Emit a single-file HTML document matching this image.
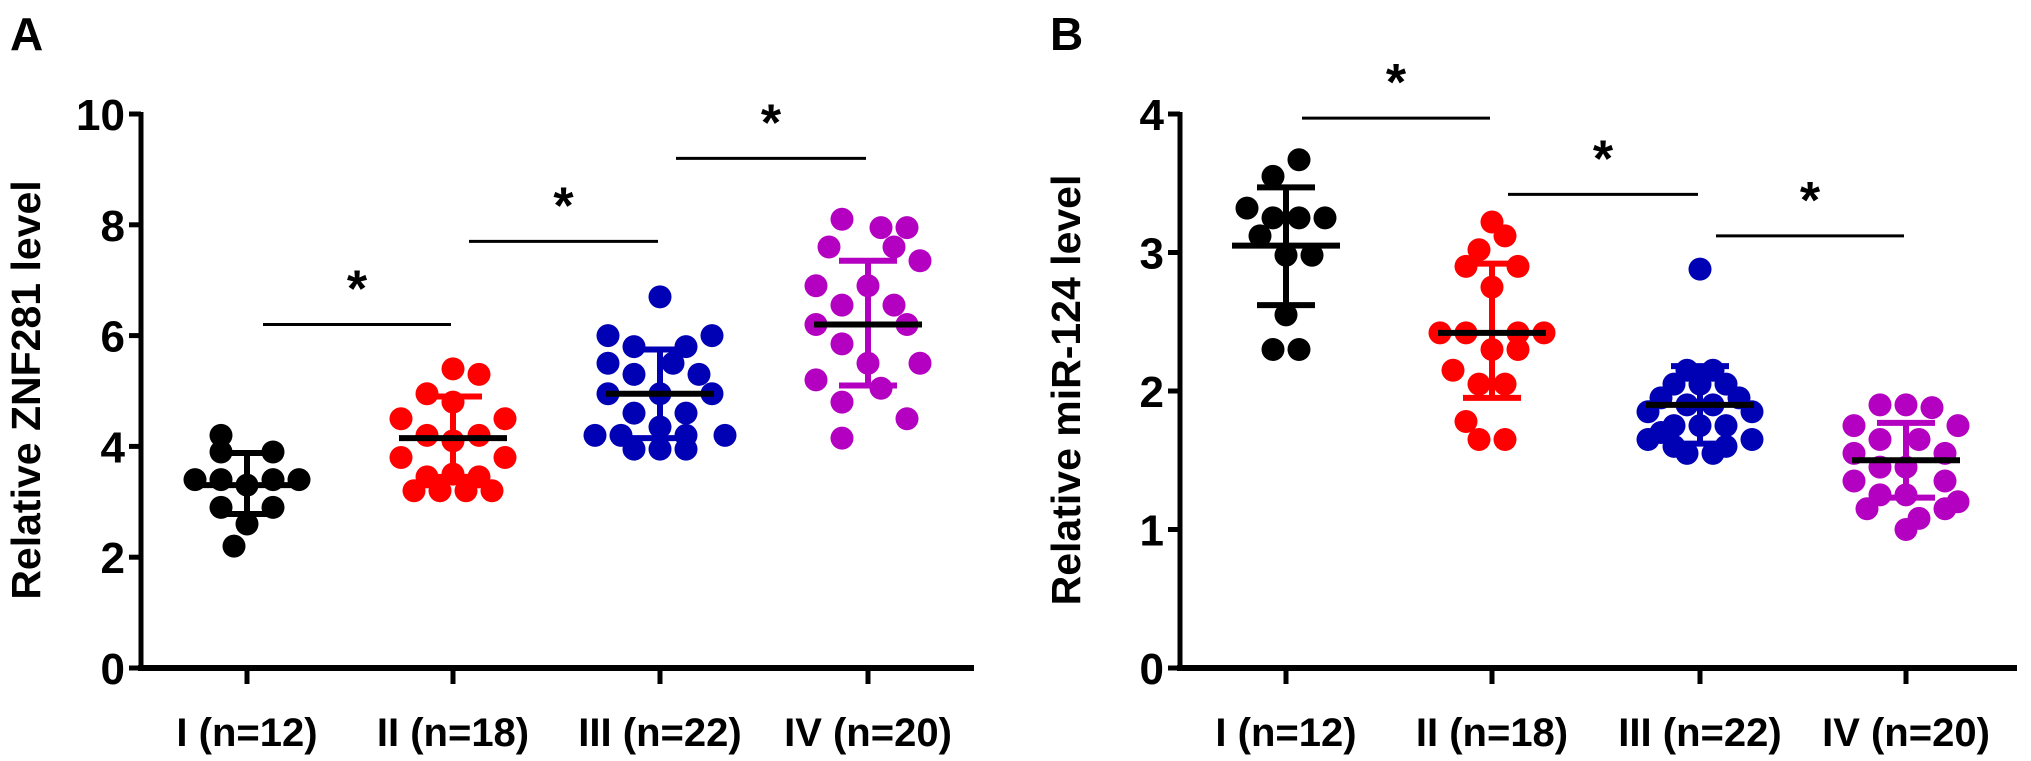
<!DOCTYPE html>
<html><head><meta charset="utf-8"><style>
html,body{margin:0;padding:0;background:#fff;}
svg{display:block;font-family:"Liberation Sans",Arial,sans-serif;}
</style></head><body>
<svg id="chart" width="2031" height="761" viewBox="0 0 2031 761"></svg>
<script>
const categories = ["I (n=12)","II (n=18)","III (n=22)","IV (n=20)"];
const colors = ["#000000","#ff0000","#0000b4","#b400c0"];
// Panel A: [jitter slot, value]
const znfI = [[-1,4.2],[-1,3.9],[1,3.9],[-2,3.4],[-1,3.4],[0,3.3],[1,3.4],[2,3.4],[-1,2.9],[1,2.9],[0,2.6],[-0.5,2.2]];
const znfII = [[0,5.4],[1,5.3],[-1,4.95],[0,4.8],[-2,4.5],[2,4.5],[-1,4.2],[0,4.1],[1,4.2],[-2,3.8],[2,3.8],[-1,3.45],[1,3.45],[-1.5,3.2],[-0.5,3.2],[0.5,3.2],[1.5,3.2],[0,3.5]];
const znfIII = [[0,6.7],[-2,6.0],[2,6.0],[-1,5.8],[1,5.8],[-2,5.5],[0.5,5.5],[-1,5.3],[1.5,5.3],[-2,4.95],[0,4.95],[2,4.95],[-1,4.6],[1,4.6],[0,4.35],[-2.5,4.2],[-1.5,4.2],[1,4.2],[2.5,4.2],[-1,3.95],[0,3.95],[1,3.95]];
const znfIV = [[-1,8.1],[0.5,7.95],[1.5,7.95],[-1.5,7.6],[1,7.6],[2,7.35],[-2,6.9],[0,6.9],[-1,6.55],[1,6.55],[-2,6.2],[1.5,6.2],[-1,5.85],[0,5.5],[2,5.5],[-2,5.2],[0.5,5.05],[-1,4.8],[1.5,4.5],[-1,4.15]];
const znfMean = [3.3,4.15,4.95,6.2];
const znfSdHi = [3.88,4.9,5.75,7.35];
const znfSdLo = [2.78,3.45,4.15,5.1];
const znfTicks = [0,2,4,6,8,10];
const znfSig = [[0,1,6.2],[1,2,7.7],[2,3,9.2]];
// Panel B
const mirI = [[0.5,3.67],[-0.5,3.55],[-1.5,3.32],[-0.5,3.25],[0.5,3.25],[1.5,3.25],[-1,3.12],[0,2.98],[1,2.98],[0,2.55],[-0.5,2.3],[0.5,2.3]];
const mirII = [[0,3.22],[0.5,3.12],[-0.5,3.02],[-1,2.9],[1,2.9],[0,2.75],[-2,2.42],[-1,2.42],[1,2.42],[2,2.42],[0,2.3],[1,2.3],[-1.5,2.15],[-0.5,2.05],[0.5,2.05],[-1,1.78],[-0.5,1.65],[0.5,1.65]];
const mirIII = [[0,2.88],[-0.5,2.15],[0.5,2.15],[-1,2.05],[0,2.05],[1,2.05],[-1.5,1.95],[1.5,1.95],[-0.5,1.9],[0.5,1.9],[-2,1.85],[2,1.85],[-1,1.75],[0,1.75],[1,1.75],[-1.5,1.7],[-2,1.65],[2,1.65],[-1,1.6],[1,1.6],[-0.5,1.55],[0.5,1.55]];
const mirIV = [[-1,1.9],[0,1.9],[1,1.88],[-2,1.75],[2,1.75],[-1,1.65],[0.5,1.65],[-2,1.55],[1.5,1.55],[-1,1.45],[0,1.45],[-2,1.35],[1.5,1.35],[-1,1.25],[0,1.25],[2,1.2],[-1.5,1.15],[1.5,1.15],[0.5,1.08],[0,1.0]];
const mirMean = [3.05,2.42,1.9,1.5];
const mirSdHi = [3.47,2.92,2.18,1.77];
const mirSdLo = [2.62,1.95,1.62,1.23];
const mirTicks = [0,1,2,3,4];
const mirSig = [[0,1,3.97],[1,2,3.42],[2,3,3.12]];

const NS="http://www.w3.org/2000/svg";
const svg=document.getElementById('chart');
function mk(tag,attrs,parent,text){const e=document.createElementNS(NS,tag);for(const k in attrs)e.setAttribute(k,attrs[k]);if(text!==undefined)e.textContent=text;(parent||svg).appendChild(e);return e;}

function panel(cfg){
  const g=mk('g',{});
  
  
  const y=v=>cfg.y0-(v/cfg.max)*(cfg.y0-cfg.yTop);
  const x=i=>cfg.cx[i];
  const L=mk('text',{x:cfg.letterX,y:50,'font-size':46,'font-weight':'bold'},g,cfg.letter);
  
  
  const ya=mk('line',{x1:cfg.ax,y1:cfg.yTop-2,x2:cfg.ax,y2:cfg.y0+3,stroke:'#000','stroke-width':5},g);
  
  
  const xa=mk('line',{x1:cfg.ax-3,y1:cfg.y0,x2:cfg.axEnd,y2:cfg.y0,stroke:'#000','stroke-width':6},g);
  
  
  cfg.ticks.forEach(t=>{
    const tk=mk('line',{x1:cfg.ax-12,y1:y(t),x2:cfg.ax,y2:y(t),stroke:'#000','stroke-width':5},g);
    
    
    const tl=mk('text',{x:cfg.ax-16,y:y(t)+16,'font-size':44,'font-weight':'bold','text-anchor':'end'},g,String(t));
    
    
  });
  const tt=mk('text',{x:0,y:0,'font-size':41,'font-weight':'bold','text-anchor':'middle',transform:`translate(${cfg.titleX},${cfg.titleY}) rotate(-90)`},g,cfg.title);
  
  
  categories.forEach((c,i)=>{
    const tk=mk('line',{x1:x(i),y1:cfg.y0,x2:x(i),y2:cfg.y0+16,stroke:'#000','stroke-width':5},g);
    
    
    const tl=mk('text',{x:x(i),y:746,'font-size':40,'font-weight':'bold','text-anchor':'middle'},g,c);
    
    
  });
  cfg.groups.forEach((pts,i)=>{
    const gg=mk('g',{},g);
    
    
    pts.forEach(p=>{
      const c=mk('circle',{cx:x(i)+p[0]*26,cy:y(p[1]),r:11.5,fill:colors[i]},gg);
      
      
    });
    const col=colors[i];
    const v=mk('line',{x1:x(i),y1:y(cfg.hi[i]),x2:x(i),y2:y(cfg.lo[i]),stroke:col,'stroke-width':6},g);
    
    
    [cfg.hi[i],cfg.lo[i]].forEach(s=>{
      const h=mk('line',{x1:x(i)-29,y1:y(s),x2:x(i)+29,y2:y(s),stroke:col,'stroke-width':6},g);
      
      
    });
    const m=mk('line',{x1:x(i)-54,y1:y(cfg.mean[i]),x2:x(i)+54,y2:y(cfg.mean[i]),stroke:'#000','stroke-width':6},g);
    
    
  });
  cfg.sig.forEach(s=>{
    const a=x(s[0])+16,b=x(s[1])-2;
    const l=mk('line',{x1:a,y1:y(s[2]),x2:b,y2:y(s[2]),stroke:'#000','stroke-width':3},g);
    
    
    const st=mk('text',{x:(a+b)/2,y:y(s[2])-18,'font-size':52,'font-weight':'bold','text-anchor':'middle'},g,'*');
    
    
  });
}
panel({name:'panel-a-znf281',letter:'A',letterX:10,ax:141,axEnd:974,y0:668,yTop:114,max:10,cx:[247,453,660,868],
  ticks:znfTicks,title:'Relative ZNF281 level',titleX:40,titleY:390,groups:[znfI,znfII,znfIII,znfIV],
  mean:znfMean,hi:znfSdHi,lo:znfSdLo,sig:znfSig});
panel({name:'panel-b-mir124',letter:'B',letterX:1050,ax:1180,axEnd:2017,y0:668,yTop:114,max:4,cx:[1286,1492,1700,1906],
  ticks:mirTicks,title:'Relative miR-124 level',titleX:1080,titleY:390,groups:[mirI,mirII,mirIII,mirIV],
  mean:mirMean,hi:mirSdHi,lo:mirSdLo,sig:mirSig});
</script>
</body></html>
